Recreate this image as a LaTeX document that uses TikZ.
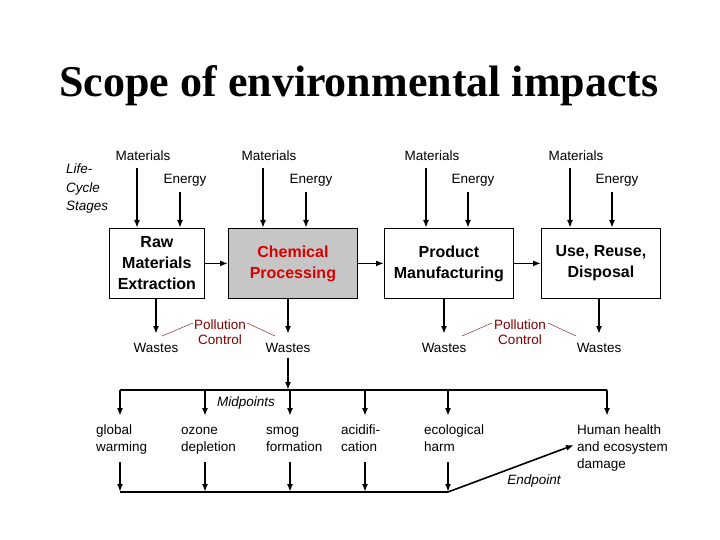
\documentclass[tikz,border=0pt]{standalone}
\usepackage{fontspec}
\usetikzlibrary{arrows.meta}
\setmainfont{Liberation Sans}
\newfontfamily\titlefont{Liberation Serif}
\begin{document}
\begin{tikzpicture}[x=1pt,y=-1pt,
  lbl/.style={font=\fontsize{13.5}{15}\selectfont,inner sep=0pt,align=center},
  stage/.style={draw,thick,font=\bfseries\fontsize{16}{21}\selectfont,align=center,inner sep=0pt,anchor=north west},
  arr/.style={-{Latex[length=8pt,width=6pt]},line width=1.6pt},
  ln/.style={line width=1.6pt},
  pc/.style={lbl,text=red!50!black},
  pcl/.style={red!50!black,thin}]
\useasboundingbox (0,0) rectangle (720,540);
\node[font=\titlefont\bfseries\fontsize{44}{48}\selectfont] (title) at (359,86) {Scope of environmental impacts};
\node[lbl,font=\itshape\fontsize{13.5}{18.5}\selectfont,align=left,anchor=west] (lcs) at (66,189) {Life-\\Cycle\\Stages};
% boxes
\node[stage,minimum width=95,minimum height=70] (b1) at (109,228) {Raw\\Materials\\Extraction};
\node[stage,minimum width=129,minimum height=70,fill=gray!45,text=red!85!black] (b2) at (228,228) {Chemical\\Processing};
\node[stage,minimum width=129,minimum height=70] (b3) at (384,228) {Product\\Manufacturing};
\node[stage,minimum width=119,minimum height=70] (b4) at (541,228) {Use, Reuse,\\Disposal};
\draw[arr] (b1.east) -- (b2.west);
\draw[arr] (b2.east) -- (b3.west);
\draw[arr] (b3.east) -- (b4.west);
% inputs
\foreach \n/\m/\e in {1/137/180,2/263/306,3/426/468,4/570/612}{
  \node[lbl] (m\n) at (\m+6,156) {Materials};
  \node[lbl] (e\n) at (\e+5,180) {Energy};
  \coordinate (mt\n) at (\m,168);
  \coordinate (et\n) at (\e,192);
  \draw[arr] (mt\n) -- (mt\n |- b\n.north);
  \draw[arr] (et\n) -- (et\n |- b\n.north);
}
% wastes
\foreach \n/\w in {1/156,2/288,3/444,4/599}{
  \node[lbl] (w\n) at (\w,348) {Wastes};
  \coordinate (wt\n) at (\w,334);
  \draw[arr] (wt\n |- b\n.south) -- (wt\n);
}
\node[pc] (pc1) at (220,332) {Pollution\\Control};
\node[pc] (pc2) at (520,332) {Pollution\\Control};
\draw[pcl] (162,336) -- (193,323);
\draw[pcl] (247,323) -- (275,336);
\draw[pcl] (462,336) -- (492,323);
\draw[pcl] (548,323) -- (576,336);
% midpoints
\coordinate (mj) at (288,390);
\draw[arr] (288,358) -- (mj);
\draw[ln] (120,390) -- (607,390);
\node[lbl,font=\itshape\fontsize{13.5}{15}\selectfont] (mid) at (246,403) {Midpoints};
\foreach \n/\x/\t in {g/120/{global\\warming},o/205/{ozone\\depletion},s/290/{smog\\formation},a/365/{acidifi-\\cation},e/448/{ecological\\harm}}{
  \node[lbl,align=left,anchor=north west,font=\fontsize{13.5}{17.5}\selectfont] (t\n) at (\x-24,422) {\strut\t};
  \draw[arr] (\x,390) -- (\x,416);
  \draw[arr] (\x,462) -- (\x,492);
}
\draw[arr] (607,390) -- (607,416);
\node[lbl,align=left,anchor=north west,font=\fontsize{13.5}{17}\selectfont] (hh) at (577,422) {\strut Human health\\and ecosystem\\damage};
\draw[ln] (120,492) -- (448,492);
\coordinate (ee) at (448,492);
\draw[arr] (ee) -- (574,445);
\node[lbl,font=\itshape\fontsize{13.5}{15}\selectfont] (endp) at (534,481) {Endpoint};
\end{tikzpicture}
\end{document}
